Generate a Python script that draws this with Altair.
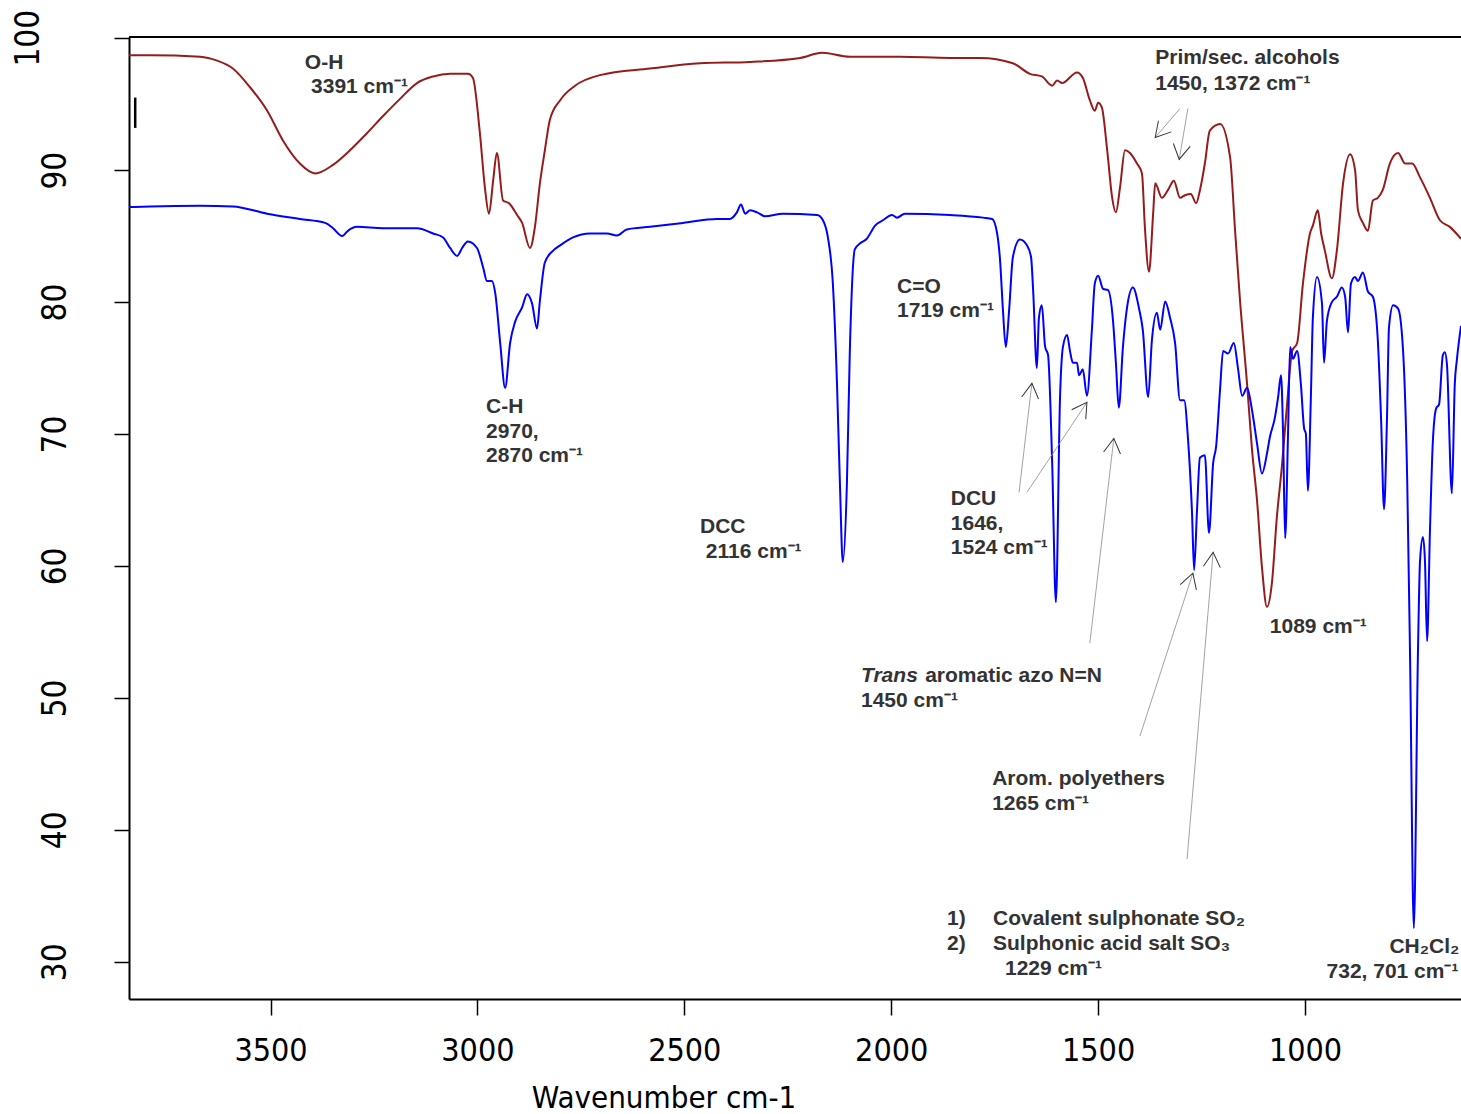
import altair as alt
import pandas as pd

# ---------------- data ----------------
red_wn = [3842, 3791, 3670, 3629, 3591, 3550, 3508, 3470, 3429, 3392, 3349, 3308, 3267, 3228, 3187,
          3146, 3107, 3066, 3023, 3011, 2994, 2982, 2972, 2962, 2953, 2938, 2924, 2904, 2892, 2873,
          2861, 2849, 2837, 2825, 2800, 2764, 2704, 2583, 2462, 2341, 2220, 2167, 2100, 1979, 1858,
          1785, 1706, 1665, 1636, 1611, 1599, 1587, 1551, 1537, 1520, 1508, 1500, 1491, 1478, 1466,
          1457, 1447, 1435, 1423, 1406, 1394, 1387, 1377, 1367, 1362, 1346, 1331, 1317, 1302, 1290,
          1276, 1263, 1254, 1242, 1230, 1205, 1181, 1169, 1157, 1140, 1128, 1116, 1104, 1092, 1080,
          1068, 1056, 1044, 1031, 1019, 1005, 988, 981, 969, 961, 952, 935, 923, 908, 891,
          879, 872, 860, 848, 836, 824, 812, 795, 775, 758, 741, 722, 698, 674, 650, 623]
red_t = [98.7, 98.7, 98.6, 98.3, 97.7, 96.3, 94.5, 92.25, 90.5, 89.75, 90.4, 91.5, 92.8, 94.1, 95.4,
         96.6, 97.1, 97.3, 97.3, 97.0, 92.8, 88.7, 86.7, 89.2, 91.3, 87.7, 87.5, 86.6, 86.0, 84.1,
         85.7, 89.0, 91.5, 93.8, 95.3, 96.4, 97.2, 97.7, 98.1, 98.2, 98.5, 98.9, 98.6, 98.6, 98.5,
         98.5, 98.1, 97.3, 97.1, 96.4, 96.8, 96.6, 97.4, 97.0, 95.3, 94.5, 95.1, 94.75, 91.5, 87.9,
         86.8, 88.7, 91.5, 91.3, 90.5, 89.75, 85.7, 82.3, 86.7, 89.0, 87.9, 88.5, 89.2, 87.9, 88.1,
         88.2, 87.5, 88.46, 90.5, 93.0, 93.5, 90.96, 85.43, 80.1, 73.8, 68.8, 65.0, 59.9, 56.9, 58.7,
         63.7, 67.5, 72.0, 76.3, 76.9, 81.4, 85.2, 85.8, 86.95, 85.2, 83.9, 81.8, 83.9, 89.0, 91.2,
         90.0, 86.95, 86.0, 85.4, 87.7, 87.9, 88.5, 90.5, 91.3, 90.5, 90.5, 89.45, 87.9, 86.2, 85.7, 84.8]

blue_wn = [3842, 3791, 3670, 3591, 3508, 3429, 3368, 3349, 3327, 3313, 3291, 3228, 3146, 3107, 3083,
           3066, 3049, 3037, 3023, 3001, 2986, 2977, 2965, 2957, 2945, 2933, 2921, 2909, 2892, 2880,
           2868, 2856, 2849, 2837, 2817, 2800, 2769, 2728, 2687, 2663, 2639, 2583, 2503, 2421, 2390,
           2373, 2363, 2353, 2341, 2324, 2305, 2262, 2179, 2165, 2153, 2141, 2131, 2124, 2117, 2107,
           2100, 2088, 2075, 2059, 2039, 2020, 1998, 1986, 1967, 1858, 1778, 1756, 1744, 1737, 1730,
           1723, 1715, 1706, 1689, 1672, 1662, 1657, 1648, 1643, 1636, 1628, 1621, 1611, 1602, 1592,
           1585, 1575, 1568, 1561, 1551, 1546, 1537, 1527, 1515, 1508, 1500, 1488, 1476, 1464, 1457,
           1450, 1440, 1430, 1416, 1401, 1392, 1379, 1370, 1358, 1350, 1338, 1326, 1314, 1302, 1292,
           1283, 1273, 1268, 1261, 1254, 1242, 1232, 1222, 1215, 1205, 1198, 1186, 1172, 1162, 1152,
           1140, 1128, 1116, 1104, 1092, 1085, 1073, 1065, 1058, 1053, 1048, 1041, 1036, 1029, 1019,
           1010, 1002, 998, 993, 986, 981, 971, 959, 954, 947, 935, 923, 911, 903, 896,
           889, 879, 872, 860, 848, 836, 824, 816, 809, 802, 797, 787, 775, 763, 753,
           746, 737, 727, 722, 715, 710, 705, 698, 691, 683, 676, 667, 662, 657, 645,
           638, 633, 623]
blue_t = [87.2, 87.25, 87.3, 87.25, 86.7, 86.3, 86.0, 85.6, 85.0, 85.4, 85.7, 85.6, 85.6, 85.2, 84.9,
          84.1, 83.5, 84.1, 84.6, 84.1, 82.6, 81.6, 81.6, 80.7, 76.9, 73.5, 76.9, 78.5, 79.6, 80.6,
          79.9, 78.0, 80.1, 83.0, 83.9, 84.3, 84.9, 85.2, 85.2, 85.05, 85.5, 85.7, 86.0, 86.3, 86.3,
          86.8, 87.4, 86.7, 86.95, 86.8, 86.5, 86.7, 86.6, 86.2, 84.9, 81.4, 73.8, 66.3, 60.3, 66.3,
          76.3, 84.0, 84.45, 84.8, 85.8, 86.2, 86.6, 86.4, 86.7, 86.6, 86.4, 86.3, 85.2, 83.2, 79.4,
          76.6, 79.4, 83.4, 84.75, 84.3, 83.4, 80.9, 75.0, 78.8, 79.75, 76.6, 76.0, 67.8, 57.25, 72.8,
          76.6, 77.5, 76.3, 75.4, 75.4, 74.45, 74.9, 72.9, 77.9, 81.4, 82.0, 81.0, 80.9, 78.6, 75.4,
          72.0, 76.6, 79.6, 81.1, 79.5, 77.9, 72.8, 77.1, 79.2, 77.9, 80.05, 78.8, 76.9, 72.55, 72.55,
          69.75, 64.0, 59.7, 64.2, 68.2, 68.4, 62.5, 67.8, 69.0, 73.5, 76.3, 76.1, 76.9, 75.0, 72.9,
          73.5, 71.8, 69.3, 67.0, 68.5, 69.75, 71.2, 72.8, 74.45, 70.05, 62.1, 70.05, 76.6, 75.7, 76.3,
          73.8, 70.4, 70.05, 65.7, 72.55, 78.8, 81.9, 79.9, 75.4, 78.6, 80.0, 80.4, 81.1, 80.4, 77.7,
          81.4, 81.9, 81.6, 82.25, 80.8, 80.4, 77.1, 71.0, 64.3, 71.0, 78.1, 79.75, 79.5, 76.3, 66.5,
          52.9, 32.55, 53.5, 60.4, 62.2, 60.3, 54.3, 62.7, 69.45, 71.95, 72.25, 75.96, 76.2, 75.3, 65.5,
          73.8, 75.6, 78.2]

x_tick_values = [3500, 3000, 2500, 2000, 1500, 1000]
y_tick_values = [30, 40, 50, 60, 70, 80, 90, 100]

label_text = ["O-H", "3391 cm\u207b\u00b9", "C-H", "2970,", "2870 cm\u207b\u00b9", "DCC", "2116 cm\u207b\u00b9",
              "C=O", "1719 cm\u207b\u00b9", "Prim/sec. alcohols", "1450, 1372 cm\u207b\u00b9",
              "DCU", "1646,", "1524 cm\u207b\u00b9", "aromatic azo N=N", "1450 cm\u207b\u00b9",
              "Arom. polyethers", "1265 cm\u207b\u00b9", "1)", "Covalent sulphonate SO\u2082",
              "2)", "Sulphonic acid salt SO\u2083", "1229 cm\u207b\u00b9", "1089 cm\u207b\u00b9",
              "CH\u2082Cl\u2082", "732, 701 cm\u207b\u00b9"]
label_wn = [3417, 3402, 2979, 2979, 2979, 2462, 2448,
            1986, 1986, 1362, 1362,
            1856, 1856, 1856, 1918, 2073,
            1756, 1756, 1865, 1754,
            1865, 1754, 1725, 1085,
            796, 948]
label_t = [97.63, 95.81, 71.57, 69.67, 67.86, 62.48, 60.58,
           80.66, 78.84, 98.08, 96.11,
           64.6, 62.7, 60.89, 51.19, 49.3,
           43.39, 41.49, 32.78, 32.78,
           30.89, 30.89, 28.99, 54.9,
           30.66, 28.77]

italic_text = ["Trans"]
italic_wn = [2073]
italic_t = [51.19]

arrow_from_wn = [1302, 1283, 1691, 1672, 1520, 1399, 1285]
arrow_from_t = [94.67, 94.67, 65.58, 65.58, 54.14, 47.1, 37.78]
arrow_to_wn = [1362, 1304, 1660, 1527, 1462, 1271, 1222]
arrow_to_t = [92.48, 90.81, 73.84, 72.4, 69.67, 59.45, 61.04]
arrow_angle = [221, 190, 7, 34, 7, 18, 5]

marker_wn = [3827]
marker_t_top = [95.5]
marker_t_bottom = [93.2]

# ---------------- styling ----------------
RED = "#951c1c"
BLUE = "#0000ff"
NARROW = "Liberation Sans Narrow, Arial Narrow, DejaVu Sans Condensed, Liberation Sans, sans-serif"
BOLD_FONT = "Liberation Sans, Arial, sans-serif"
TXT = "#333333"
W, H = 1332, 962
XDOM = [623, 3842]
YDOM = [27.18, 100.09]

xscale = alt.Scale(domain=XDOM, reverse=True, nice=False, zero=False)
yscale = alt.Scale(domain=YDOM, nice=False, zero=False)

spectra = pd.DataFrame({
    "wn": red_wn + blue_wn,
    "t": red_t + blue_t,
    "series": ["red"] * len(red_wn) + ["blue"] * len(blue_wn),
})

x_axis = alt.Axis(values=x_tick_values, format="d", title="Wavenumber cm-1", grid=False,
                  tickSize=16, tickWidth=1.5, tickColor="black",
                  domainColor="black", domainWidth=2,
                  labelFont=NARROW, labelFontSize=32, labelColor="black", labelPadding=20,
                  labelFlush=False, labelOverlap=False,
                  titleFont=NARROW, titleFontSize=31, titleFontWeight="normal", titleColor="black",
                  titleX=534.5, titleY=108, titleAlign="center", titleBaseline="alphabetic")
y_axis = alt.Axis(values=y_tick_values, format="d", title=None, grid=False,
                  labelExpr="datum.value == 100 ? '' : datum.label",
                  tickSize=15, tickWidth=1.5, tickColor="black",
                  domainColor="black", domainWidth=2,
                  labelFont=NARROW, labelFontSize=33, labelColor="black", labelPadding=49,
                  labelAngle=270, labelAlign="center", labelBaseline="alphabetic",
                  labelFlush=False, labelOverlap=False)

lines = alt.Chart(spectra).mark_line(strokeWidth=2, interpolate="monotone").encode(
    x=alt.X("wn:Q", scale=xscale, axis=x_axis),
    y=alt.Y("t:Q", scale=yscale, axis=y_axis),
    color=alt.Color("series:N", scale=alt.Scale(domain=["red", "blue"], range=[RED, BLUE]), legend=None),
)

top_border = alt.Chart(pd.DataFrame({"a": [XDOM[0]], "b": [XDOM[1]], "t": [YDOM[1]]})).mark_rule(
    color="black", strokeWidth=2).encode(x="a:Q", x2="b:Q", y="t:Q")

label100 = alt.Chart(pd.DataFrame({"v": [100]})).mark_text(
    angle=270, align="center", baseline="alphabetic", font=NARROW, fontSize=33, color="black").encode(
    y="v:Q", x=alt.value(-90), text=alt.Text("v:Q", format="d"))

marker = alt.Chart(pd.DataFrame({"wn": marker_wn, "t1": marker_t_top, "t2": marker_t_bottom})).mark_rule(
    color="black", strokeWidth=2.5).encode(x="wn:Q", y="t1:Q", y2="t2:Q")

arrows_df = pd.DataFrame({"w0": arrow_from_wn, "t0": arrow_from_t, "w1": arrow_to_wn,
                          "t1": arrow_to_t, "ang": arrow_angle})
arrow_lines = alt.Chart(arrows_df).mark_rule(color="#8a8a8a", strokeWidth=0.8).encode(
    x="w0:Q", y="t0:Q", x2="w1:Q", y2="t1:Q")
arrow_heads = alt.Chart(arrows_df).mark_point(
    shape="M -0.5 0.866 L 0 0 L 0.5 0.866", filled=False, size=1156, strokeWidth=1,
    color="#333333", opacity=1).encode(
    x="w1:Q", y="t1:Q", angle=alt.Angle("ang:Q", scale=None))

labels = alt.Chart(pd.DataFrame({"wn": label_wn, "t": label_t, "txt": label_text})).mark_text(
    align="left", baseline="alphabetic", font=BOLD_FONT, fontWeight="bold", fontSize=21, color=TXT).encode(
    x="wn:Q", y="t:Q", text="txt:N")
italic_labels = alt.Chart(pd.DataFrame({"wn": italic_wn, "t": italic_t, "txt": italic_text})).mark_text(
    align="left", baseline="alphabetic", font=BOLD_FONT, fontWeight="bold", fontStyle="italic",
    fontSize=21, color=TXT).encode(x="wn:Q", y="t:Q", text="txt:N")

chart = alt.layer(lines, top_border, label100, marker, arrow_lines, arrow_heads, labels, italic_labels).properties(
    width=W, height=H,
    autosize=alt.AutoSizeParams(type="none"),
    padding={"left": 129, "top": 37, "right": 0, "bottom": 115},
).configure_view(stroke=None).configure(background="white")

chart.save("out.html", embed_options={"renderer": "svg", "actions": False})
